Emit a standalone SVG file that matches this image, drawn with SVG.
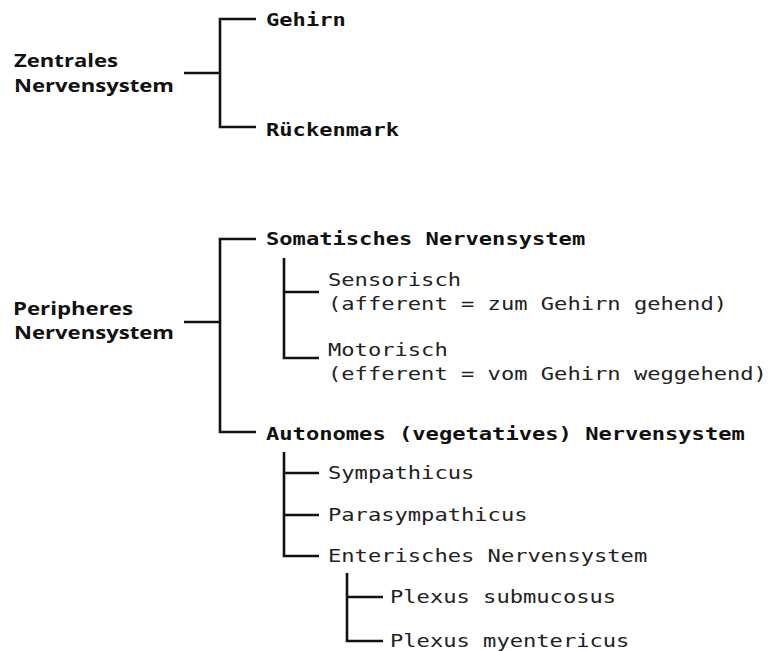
<svg xmlns="http://www.w3.org/2000/svg" width="771" height="651" viewBox="0 0 771 651">
<style>
.c{fill:none;stroke:#111;stroke-width:2.6;stroke-linejoin:miter;stroke-linecap:butt}
.h{font-family:"Open Sans","Noto Sans","Liberation Sans",sans-serif;font-weight:bold;font-size:18px;fill:#111}
.mb{font-family:"DejaVu Sans Mono","Liberation Mono",monospace;font-weight:bold;font-size:18px;fill:#111}
.m{font-family:"DejaVu Sans Mono","Liberation Mono",monospace;font-size:18px;fill:#222}
</style>
<rect width="771" height="651" fill="#fff"/>
<g id="connectors">
<path class="c" d="M256 19 H220 V127 H256"/>
<path class="c" d="M184 73 H220"/>
<path class="c" d="M256 239 H220 V432 H256"/>
<path class="c" d="M184 322 H220"/>
<path class="c" d="M284 258 V358 H319"/>
<path class="c" d="M284 292 H319"/>
<path class="c" d="M284 452 V556 H319"/>
<path class="c" d="M284 473 H319"/>
<path class="c" d="M284 515 H319"/>
<path class="c" d="M347 573 V641 H383"/>
<path class="c" d="M347 597 H383"/>
</g>
<g id="zns"><text class="h" x="14" y="67" textLength="104" lengthAdjust="spacingAndGlyphs">Zentrales</text><text class="h" x="14" y="92" textLength="160" lengthAdjust="spacingAndGlyphs">Nervensystem</text></g>
<g id="gehirn"><text class="mb" x="266" y="26" textLength="79.8" lengthAdjust="spacingAndGlyphs">Gehirn</text></g>
<g id="rueckenmark"><text class="mb" x="266" y="136" textLength="133" lengthAdjust="spacingAndGlyphs">Rückenmark</text></g>
<g id="pns"><text class="h" x="13" y="315" textLength="120" lengthAdjust="spacingAndGlyphs">Peripheres</text><text class="h" x="14" y="339" textLength="160" lengthAdjust="spacingAndGlyphs">Nervensystem</text></g>
<g id="somatisch"><text class="mb" x="266" y="245" textLength="319.2" lengthAdjust="spacingAndGlyphs">Somatisches Nervensystem</text></g>
<g id="sensorisch"><text class="m" x="328" y="286" textLength="133" lengthAdjust="spacingAndGlyphs">Sensorisch</text><text class="m" x="328" y="310" textLength="399" lengthAdjust="spacingAndGlyphs">(afferent = zum Gehirn gehend)</text></g>
<g id="motorisch"><text class="m" x="328" y="356" textLength="119.7" lengthAdjust="spacingAndGlyphs">Motorisch</text><text class="m" x="328" y="380" textLength="438.9" lengthAdjust="spacingAndGlyphs">(efferent = vom Gehirn weggehend)</text></g>
<g id="autonom"><text class="mb" x="266" y="440" textLength="478.8" lengthAdjust="spacingAndGlyphs">Autonomes (vegetatives) Nervensystem</text></g>
<g id="sympathicus"><text class="m" x="328" y="479" textLength="146.3" lengthAdjust="spacingAndGlyphs">Sympathicus</text></g>
<g id="parasympathicus"><text class="m" x="328" y="521" textLength="199.5" lengthAdjust="spacingAndGlyphs">Parasympathicus</text></g>
<g id="enterisch"><text class="m" x="328" y="562" textLength="319.2" lengthAdjust="spacingAndGlyphs">Enterisches Nervensystem</text></g>
<g id="submucosus"><text class="m" x="390" y="603" textLength="226.1" lengthAdjust="spacingAndGlyphs">Plexus submucosus</text></g>
<g id="myentericus"><text class="m" x="390" y="647" textLength="239.4" lengthAdjust="spacingAndGlyphs">Plexus myentericus</text></g>
</svg>
